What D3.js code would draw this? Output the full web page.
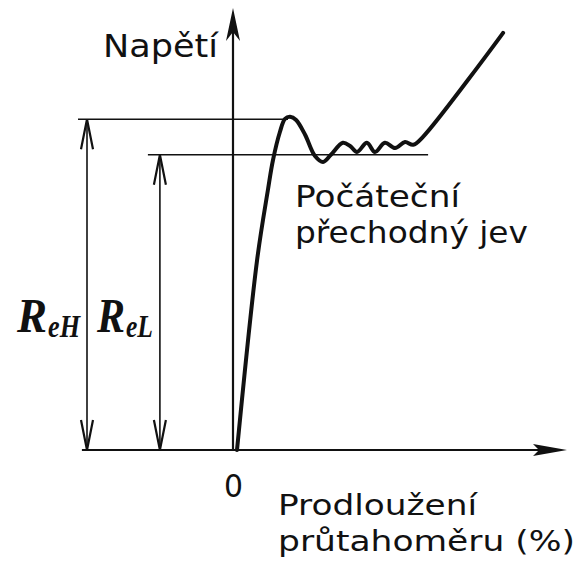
<!DOCTYPE html>
<html>
<head>
<meta charset="utf-8">
<script src="https://cdn.jsdelivr.net/npm/d3@7"></script>
<style>
  body { margin: 0; background: #fff; }
  svg { display: block; }
  .lettering { font-family: "DejaVu Sans", sans-serif; fill: #111; }
  .symbol { font-family: "Liberation Serif", "Times New Roman", serif; font-weight: bold; font-style: italic; fill: #111; }
</style>
</head>
<body>
<div id="chart"></div>
<script>
// stress-strain curve (strain in arbitrary units, stress in arbitrary units)
var strain = [0, 0.67, 1.03, 1.2, 1.43, 1.6, 1.77, 1.97, 2.27, 2.6, 2.87, 3.13, 3.53, 3.77, 4.0, 4.33, 4.6, 4.93, 5.27, 5.6, 5.87, 6.2, 8.87];
var stress = [0, 47.5, 65, 72.5, 79.5, 82.8, 83.3, 82.5, 78.8, 73.5, 72.0, 73.8, 76.8, 76.0, 74.5, 76.8, 74.5, 76.8, 75.5, 77.0, 76.3, 78.3, 104.3];

// yield levels
var reH = 82.7;
var reL = 73.8;

// where the dimension arrows stand (strain units, left of the origin)
var dimX = { reH: -5.0, reL: -2.57 };
var levelStart = { reH: -5.3, reL: -2.97 };
var levelEnd = { reH: 1.7, reL: 6.37 };

var axisX = [-5.17, 11];
var axisY = [0, 110.5];

var labels = {
    yTitle: 'Napětí',
    xTitle: ['Prodloužení', 'průtahoměru (%)'],
    note: ['Počáteční', 'přechodný jev'],
    origin: '0'
};

var width = 578, height = 570;

var x = d3.scaleLinear().domain([0, 10]).range([237, 537]);
var y = d3.scaleLinear().domain([0, 100]).range([450, 50]);

var svg = d3.select('#chart').append('svg')
    .attr('width', width)
    .attr('height', height);

// axes
svg.append('line')
    .attr('x1', x(axisX[0])).attr('x2', x(axisX[1]) - 20)
    .attr('y1', y(0)).attr('y2', y(0))
    .attr('stroke', '#111').attr('stroke-width', 2.2);

var xt = x(axisX[1]), yt = y(0);
svg.append('path')
    .attr('d', 'M' + xt + ',' + yt + 'L' + (xt - 34) + ',' + (yt - 6) + 'L' + (xt - 28) + ',' + yt + 'L' + (xt - 34) + ',' + (yt + 6) + 'Z')
    .attr('fill', '#111');

svg.append('line')
    .attr('x1', x(0) - 4).attr('x2', x(0) - 4)
    .attr('y1', y(axisY[0])).attr('y2', y(axisY[1]) + 10)
    .attr('stroke', '#111').attr('stroke-width', 2.2);

var ax = x(0) - 4, ay = y(axisY[1]);
svg.append('path')
    .attr('d', 'M' + ax + ',' + ay + 'L' + (ax - 7) + ',' + (ay + 33) + 'L' + ax + ',' + (ay + 24) + 'L' + (ax + 7) + ',' + (ay + 33) + 'Z')
    .attr('fill', '#111');

// yield level lines
['reH', 'reL'].forEach(function (k) {
    var level = k == 'reH' ? reH : reL;
    svg.append('line')
        .attr('x1', x(levelStart[k])).attr('x2', x(levelEnd[k]))
        .attr('y1', y(level)).attr('y2', y(level))
        .attr('stroke', '#111').attr('stroke-width', 1.6);

    var dx = x(dimX[k]);
    svg.append('line')
        .attr('x1', dx).attr('x2', dx)
        .attr('y1', y(level)).attr('y2', y(0))
        .attr('stroke', '#111').attr('stroke-width', 1.6);

    // open arrow heads, top and bottom
    var top = y(level), bot = y(0);
    svg.append('path')
        .attr('d', 'M' + (dx - 6) + ',' + (top + 30) + 'L' + dx + ',' + top + 'L' + (dx + 6) + ',' + (top + 30))
        .attr('fill', 'none').attr('stroke', '#111').attr('stroke-width', 2.2);
    svg.append('path')
        .attr('d', 'M' + (dx - 6) + ',' + (bot - 30) + 'L' + dx + ',' + bot + 'L' + (dx + 6) + ',' + (bot - 30))
        .attr('fill', 'none').attr('stroke', '#111').attr('stroke-width', 2.2);
});

// the curve
var pts = strain.map(function (d, i) { return [d, stress[i]]; });
var line = d3.line()
    .x(function (d) { return x(d[0]); })
    .y(function (d) { return y(d[1]); })
    .curve(d3.curveCatmullRom.alpha(0.5));

svg.append('path')
    .datum(pts)
    .attr('d', line)
    .attr('fill', 'none')
    .attr('stroke', '#111')
    .attr('stroke-width', 4)
    .attr('stroke-linejoin', 'round')
    .attr('stroke-linecap', 'round');

// lettering
function letter(txt, px, py, len, size) {
    svg.append('text')
        .attr('class', 'lettering')
        .attr('x', px).attr('y', py)
        .attr('font-size', size)
        .attr('textLength', len)
        .attr('lengthAdjust', 'spacingAndGlyphs')
        .text(txt);
}
letter(labels.yTitle, 103, 57, 115, 32);
letter(labels.note[0], 295, 207, 165, 30);
letter(labels.note[1], 295, 243, 233, 30);
letter(labels.xTitle[0], 278, 515, 199, 29);
letter(labels.xTitle[1], 278, 551, 297, 29);
letter(labels.origin, 224, 497, 19, 32);

// R_eH, R_eL
function symbol(sub, px, len1, len2) {
    svg.append('text').attr('class', 'symbol')
        .attr('x', px).attr('y', 332)
        .attr('font-size', 48)
        .attr('textLength', len1).attr('lengthAdjust', 'spacingAndGlyphs')
        .text('R');
    svg.append('text').attr('class', 'symbol')
        .attr('x', px + len1 + 1).attr('y', 337)
        .attr('font-size', 32)
        .attr('textLength', len2).attr('lengthAdjust', 'spacingAndGlyphs')
        .text(sub);
}
symbol('eH', 17, 30, 32);
symbol('eL', 97, 28, 27);
</script>
</body>
</html>
